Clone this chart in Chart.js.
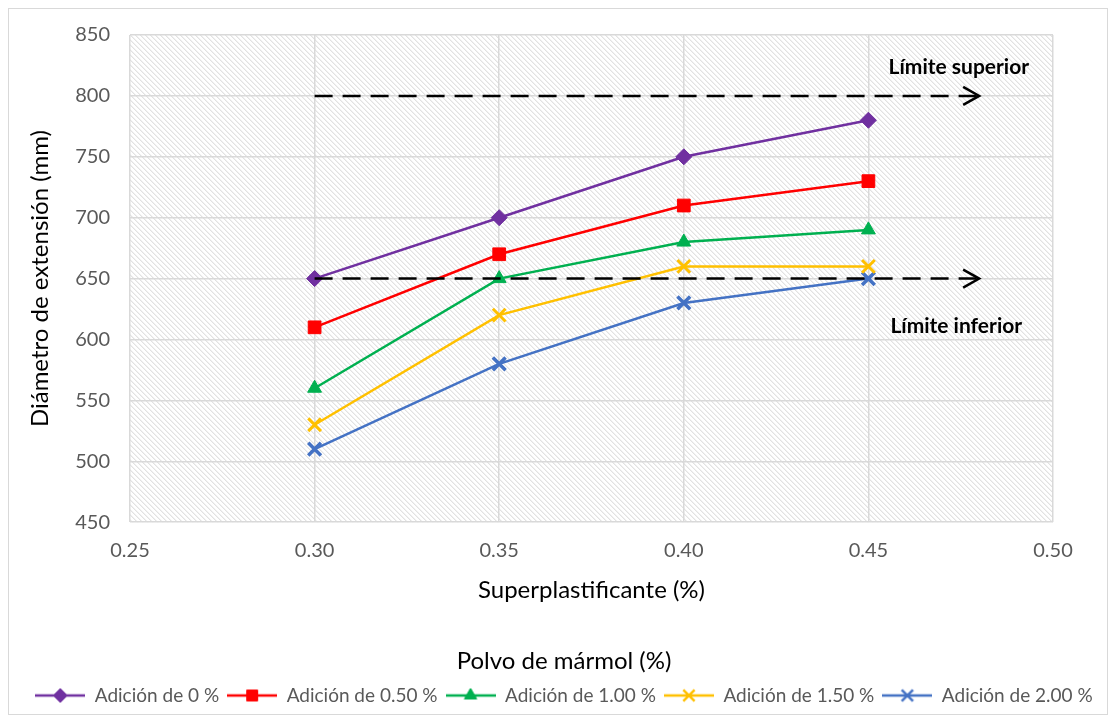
<!DOCTYPE html>
<html>
<head>
<meta charset="utf-8">
<script src="https://cdn.jsdelivr.net/npm/chart.js@4.4.1/dist/chart.umd.min.js"></script>
<style>
  html, body { margin: 0; padding: 0; background: #fff; }
  #wrap { width: 1108px; height: 715px; position: relative; }
</style>
</head>
<body>
<div id="wrap"><canvas id="extChart" width="1108" height="715"></canvas></div>
<script>
const superplast = [0.30, 0.35, 0.40, 0.45];
const xTicks = [0.25, 0.30, 0.35, 0.40, 0.45, 0.50];
const serieNames = ['Adición de 0 %', 'Adición de 0.50 %', 'Adición de 1.00 %', 'Adición de 1.50 %', 'Adición de 2.00 %'];
const add0   = [650, 700, 750, 780];
const add050 = [610, 670, 710, 730];
const add100 = [560, 650, 680, 690];
const add150 = [530, 620, 660, 660];
const add200 = [510, 580, 630, 650];
const limitSup = 800;
const limitInf = 650;
const limitRange = [0.30, 0.48];

const serieColors = ['#7030A0', '#FF0000', '#00B050', '#FFC000', '#4472C4'];
const serieMarks  = ['rectRot', 'rect', 'triangle', 'crossRot', 'crossRot'];
const serieRadius = [8, 9, 8, 9, 9];
const legendRadius = [7, 7.5, 7, 8, 8];
const serieData = [add0, add050, add100, add150, add200];

const FONT = "Lato, 'Open Sans', sans-serif";
const grey = '#595959';

function toPoints(vals) {
  return vals.map((v, i) => ({ x: superplast[i], y: v }));
}

// hatched fill for the plot area
function makeHatch() {
  const c = document.createElement('canvas');
  c.width = 5; c.height = 5;
  const g = c.getContext('2d');
  g.fillStyle = '#ffffff';
  g.fillRect(0, 0, 5, 5);
  for (let i = 0; i < 5; i++) {
    g.fillStyle = '#e2e2e2';
    g.fillRect(i, i, 1, 1);
    g.fillStyle = '#f1f1f1';
    g.fillRect((i + 1) % 5, i, 1, 1);
  }
  return c;
}

// legend swatch: short line with the marker in the middle
function makeSwatch(color, style, radius) {
  const c = document.createElement('canvas');
  c.width = 50; c.height = 20;
  const g = c.getContext('2d');
  g.strokeStyle = color;
  g.lineWidth = 2.5;
  g.beginPath();
  g.moveTo(0, 10); g.lineTo(50, 10);
  g.stroke();
  g.fillStyle = color;
  g.lineWidth = style === 'crossRot' ? 2.5 : 1;
  Chart.helpers.drawPoint(g, { pointStyle: style, radius: radius, borderWidth: 1 }, 25, 10);
  g.fill();
  if (style !== 'crossRot') g.stroke();
  return c;
}

const datasets = serieNames.map((name, i) => ({
  label: name,
  data: toPoints(serieData[i]),
  borderColor: serieColors[i],
  backgroundColor: serieColors[i],
  borderWidth: 2.5,
  pointStyle: serieMarks[i],
  pointRadius: serieRadius[i],
  pointBorderWidth: (serieMarks[i] === 'crossRot') ? (i === 4 ? 3.5 : 3) : 1,
  tension: 0
}));

[limitSup, limitInf].forEach(v => {
  datasets.push({
    label: 'limit',
    data: limitRange.map(x => ({ x: x, y: v })),
    borderColor: '#000000',
    borderWidth: 2.5,
    borderDash: [18, 10],
    pointRadius: 0,
    order: -1,
    isLimit: true
  });
});

const hatchPlugin = {
  id: 'hatch',
  beforeDraw(chart) {
    const { ctx, chartArea: a } = chart;
    ctx.save();
    ctx.fillStyle = '#ffffff';
    ctx.fillRect(0, 0, chart.width, chart.height);
    ctx.strokeStyle = '#d9d9d9';
    ctx.lineWidth = 1;
    ctx.strokeRect(8.5, 8.5, chart.width - 9, chart.height - 9);
    ctx.fillStyle = ctx.createPattern(makeHatch(), 'repeat');
    ctx.fillRect(a.left, a.top, a.right - a.left, a.bottom - a.top);
    ctx.restore();
  },
  afterDatasetsDraw(chart) {
    const { ctx, scales: { x, y } } = chart;
    ctx.save();
    ctx.strokeStyle = '#000';
    ctx.lineWidth = 2.5;
    [limitSup, limitInf].forEach(v => {
      const px = x.getPixelForValue(limitRange[1]);
      const py = y.getPixelForValue(v);
      ctx.beginPath();
      ctx.moveTo(px - 16, py - 9);
      ctx.lineTo(px, py);
      ctx.lineTo(px - 16, py + 9);
      ctx.stroke();
    });
    ctx.fillStyle = '#000';
    ctx.font = 'bold 21px ' + FONT;
    ctx.textAlign = 'center';
    ctx.textBaseline = 'middle';
    ctx.fillText('Límite superior', x.getPixelForValue(0.4745), y.getPixelForValue(823.5));
    ctx.fillText('Límite inferior', x.getPixelForValue(0.4738), y.getPixelForValue(611));
    ctx.restore();
  }
};

new Chart(document.getElementById('extChart'), {
  type: 'line',
  data: { datasets: datasets },
  plugins: [hatchPlugin],
  options: {
    responsive: false,
    animation: false,
    layout: { padding: { left: 20, top: 35, right: 0, bottom: 0 } },
    plugins: {
      tooltip: { enabled: false },
      legend: {
        position: 'bottom',
        title: {
          display: true,
          text: 'Polvo de mármol (%)',
          color: '#000',
          font: { family: FONT, size: 24 },
          padding: { top: 45, bottom: 0 }
        },
        labels: {
          color: grey,
          font: { family: FONT, size: 19 },
          usePointStyle: true,
          pointStyleWidth: 50,
          boxHeight: 19,
          padding: 8,
          filter: item => item.text !== 'limit',
          generateLabels(chart) {
            return chart.data.datasets.map((ds, i) => ({
              text: ds.label,
              fontColor: grey,
              pointStyle: ds.isLimit ? 'line' : makeSwatch(serieColors[i], serieMarks[i], legendRadius[i]),
              strokeStyle: ds.borderColor,
              lineWidth: 0,
              datasetIndex: i
            }));
          }
        }
      }
    },
    scales: {
      x: {
        type: 'linear',
        min: 0.25,
        max: 0.50,
        afterFit(s) { s.height = 82; },
        afterBuildTicks(s) {
          s.ticks = xTicks.map(v => ({ value: v }));
        },
        ticks: {
          color: grey,
          font: { family: FONT, size: 20 },
          padding: 16,
          callback: v => Number(v).toFixed(2)
        },
        grid: { color: '#d9d9d9', lineWidth: 1.5, drawTicks: false },
        border: { display: false },
        title: {
          display: true,
          text: 'Superplastificante (%)',
          color: '#000',
          font: { family: FONT, size: 24 },
          padding: { top: 0, bottom: 0 }
        }
      },
      y: {
        min: 450,
        max: 850,
        afterFit(s) { s.width = 110; },
        ticks: {
          stepSize: 50,
          color: grey,
          font: { family: FONT, size: 20 },
          padding: 20
        },
        grid: { color: '#d9d9d9', lineWidth: 1.5, drawTicks: false },
        border: { display: false },
        title: {
          display: true,
          text: 'Diámetro de extensión (mm)',
          color: '#000',
          font: { family: FONT, size: 24 },
          padding: { top: 6, bottom: 0 }
        }
      },
      yRight: {
        position: 'right',
        display: true,
        afterFit(s) { s.width = 55; },
        grid: { display: false, drawOnChartArea: false },
        ticks: { display: false },
        border: { display: false }
      }
    }
  }
});
</script>
</body>
</html>
